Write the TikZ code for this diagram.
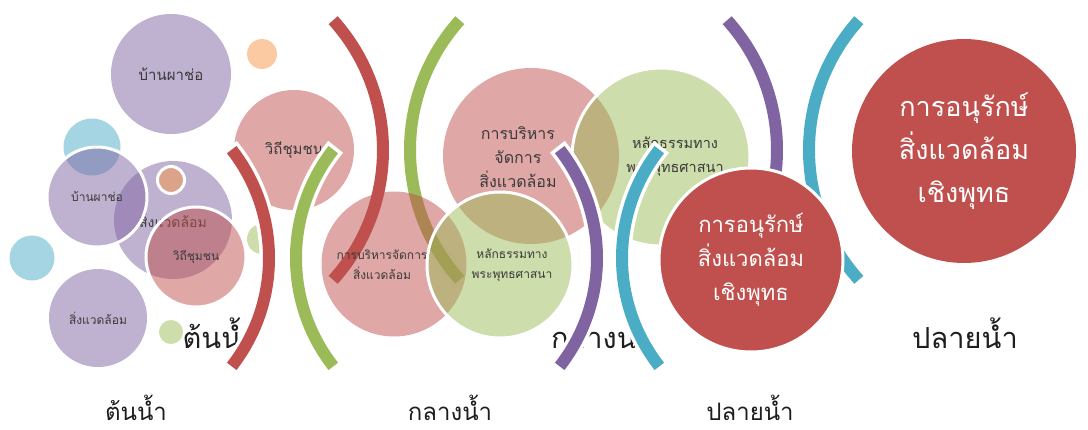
\documentclass[tikz,border=0pt]{standalone}
\usepackage{fontspec}
\newfontfamily\thaifont[Script=Thai]{Loma}
\definecolor{accred}{HTML}{C0504D}
\definecolor{accgreen}{HTML}{9BBB59}
\definecolor{accpurple}{HTML}{8064A2}
\definecolor{accaqua}{HTML}{4BACC6}
\definecolor{accorange}{HTML}{F79646}
\definecolor{inktext}{HTML}{3A3A3A}
\definecolor{stageink}{HTML}{1E1E1E}
\tikzset{
  pts/.style 2 args={font=\thaifont\fontsize{#1}{#2}\selectfont},
  bubble/.style={circle, inner sep=0pt, fill opacity=0.5, text opacity=1, text=inktext, align=center, font=\thaifont},
  ring/.style={draw=white, line width=3},
  solidbubble/.style={circle, inner sep=0pt, fill=accred, text=white, align=center},
  bubbletext/.style={align=center, text=inktext},
  stagetext/.style={anchor=base, text=stageink, text depth=0pt},
}
\newcommand{\bubble}[6][] {\node at (#2) (#3) [bubble, fill=#4, minimum size=#5, #1] {#6};}
\newcommand{\bubblelabel}[4][] {\node at (#2) (#3) [bubbletext, #1] {#4};}
\newcommand{\stagelabel}[4][] {\node at (#2) (#3) [stagetext, #1] {#4};}
\newcommand{\bowarc}[5] {\draw [white, line width=19] (#1) ++(#3-1.2:#2) arc [start angle=#3-1.2, end angle=#4+1.2, radius=#2];
  \draw [#5, line width=12] (#1) ++(#3:#2) arc [start angle=#3, end angle=#4, radius=#2];}
\begin{document}
\begin{tikzpicture}[x=1pt, y=-1pt]
\useasboundingbox (0,0) rectangle (1088,429);

% upper set
\bubble[pts={15}{18}] {171,74} {bigvillage} {accpurple} {120} {บ้านผาช่อ};
\bubble {262,54} {bigdot} {accorange} {30} {};
\bubble[pts={15}{18}] {294,150} {bigway} {accred} {120} {วิถีชุมชน};
\bubble {531,156} {bigmanage} {accred} {176} {};
\bubblelabel[pts={16}{24}] {518,157} {bigmanagetext} {การบริหาร\\จัดการ\\สิ่งแวดล้อม};
\bubble[ring] {661,157} {bigdharma} {accgreen} {178} {};
\bubblelabel[pts={14.5}{24}] {675,157} {bigdharmatext} {หลักธรรมทาง\\พระพุทธศาสนา};
\node at (964,151) (bigkeep) [solidbubble, pts={27}{43}, minimum size=224] {การอนุรักษ์\\สิ่งแวดล้อม\\เชิงพุทธ};

\bowarc {189,150} {194} {-42} {42} {accred};
\bowarc {604,150} {194} {138} {222} {accgreen};
\bowarc {583,150} {194} {-42} {42} {accpurple};
\bowarc {1003,150} {194} {138} {222} {accaqua};

\stagelabel[pts={29}{30}] {220,348} {bigsource} {ต้นน้ำ};
\stagelabel[pts={29}{30}] {602,348} {bigmidstream} {กลางน้ำ};
\stagelabel[pts={29}{30}] {965,348} {bigmouth} {ปลายน้ำ};

% lower set
\bubble {92,147} {smalldrop} {accaqua} {57} {};
\bubble[pts={14}{16}] {173,220} {smallsurround} {accpurple} {118} {สิ่งแวดล้อม};
\bubble[ring, pts={12}{14}] {97,197} {smallvillage} {accpurple} {100} {บ้านผาช่อ};
\bubble[ring] {171,180} {smalldot} {accorange} {27} {};
\bubble[ring, pts={12}{14}] {196,257} {smallway} {accred} {100} {วิถีชุมชน};
\bubble {32,258} {sidedrop} {accaqua} {45} {};
\bubble[pts={12}{14}] {98,318} {smallsurroundb} {accpurple} {98} {สิ่งแวดล้อม};
\bubble {171,332} {greendot} {accgreen} {24} {};
\bubble {262,239} {greenblob} {accgreen} {30} {};
\bubble {394,264} {smallmanage} {accred} {145} {};
\bubble[ring] {500,265} {smalldharma} {accgreen} {146} {};
\bubblelabel[pts={12}{20}] {382,265} {smallmanagetext} {การบริหารจัดการ\\สิ่งแวดล้อม};
\bubblelabel[pts={12}{20}] {512,265} {smalldharmatext} {หลักธรรมทาง\\พระพุทธศาสนา};
\node at (751,260) (smallkeep) [solidbubble, ring, pts={22}{34}, minimum size=184] {การอนุรักษ์\\สิ่งแวดล้อม\\เชิงพุทธ};

\bowarc {93,258} {176} {-38} {38} {accred};
\bowarc {472,258} {176} {142} {218} {accgreen};
\bowarc {421,258} {176} {-38} {38} {accpurple};
\bowarc {798,258} {176} {142} {218} {accaqua};

\stagelabel[pts={24}{26}] {136,420} {source} {ต้นน้ำ};
\stagelabel[pts={24}{26}] {450,420} {midstream} {กลางน้ำ};
\stagelabel[pts={24}{26}] {750,420} {mouth} {ปลายน้ำ};

\end{tikzpicture}
\end{document}
